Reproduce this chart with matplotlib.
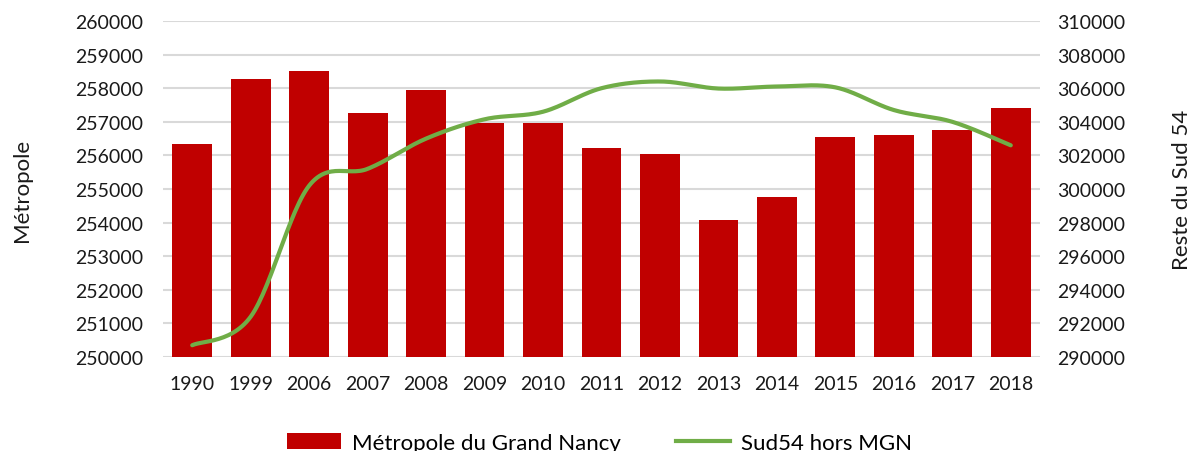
import numpy as np
import matplotlib
matplotlib.use("Agg")
import matplotlib.pyplot as plt
from matplotlib.lines import Line2D
from matplotlib.patches import Patch

years = ["1990", "1999", "2006", "2007", "2008", "2009", "2010", "2011",
         "2012", "2013", "2014", "2015", "2016", "2017", "2018"]
metropole = [256350, 258260, 258520, 257270, 257960, 256960, 256950, 256230,
             256030, 254070, 254770, 256550, 256600, 256750, 257420]
sud54 = [290700, 292400, 300200, 301200, 303000, 304150, 304600, 306000,
         306400, 305980, 306100, 306050, 304700, 304000, 302600]

BAR_COLOR = "#C00000"
LINE_COLOR = "#70AD47"
GRID_COLOR = "#D9D9D9"
TXT = "#1A1A1A"


def smooth(xs, ys, n=30):
    # Excel-like smoothed line: Bezier segments with Catmull-Rom control points
    xs = np.asarray(xs, float)
    ys = np.asarray(ys, float)
    px = np.concatenate([[xs[0]], xs, [xs[-1]]])
    py = np.concatenate([[ys[0]], ys, [ys[-1]]])
    outx, outy = [], []
    t = np.linspace(0, 1, n)
    for i in range(1, len(px) - 2):
        p0 = np.array([px[i], py[i]])
        p3 = np.array([px[i + 1], py[i + 1]])
        c1 = p0 + (np.array([px[i + 1], py[i + 1]]) - np.array([px[i - 1], py[i - 1]])) / 6
        c2 = p3 - (np.array([px[i + 2], py[i + 2]]) - np.array([px[i], py[i]])) / 6
        b = ((1 - t) ** 3)[:, None] * p0 + (3 * (1 - t) ** 2 * t)[:, None] * c1 \
            + (3 * (1 - t) * t ** 2)[:, None] * c2 + (t ** 3)[:, None] * p3
        outx.extend(b[:, 0])
        outy.extend(b[:, 1])
    return outx, outy


plt.rcParams['font.family'] = ['Lato', 'DejaVu Sans']
fs = 14

fig = plt.figure(figsize=(11.99, 4.52), dpi=100)
ax = fig.add_axes([163 / 1199, (452 - 358) / 452, (1040 - 163) / 1199, (358 - 22) / 452])
ax2 = ax.twinx()

x = np.arange(len(years))
ax.bar(x, metropole, width=0.68, color=BAR_COLOR, zorder=2)
ax.set_ylim(250000, 260000)
ax.set_yticks(np.arange(250000, 260001, 1000))
ax.set_xlim(-0.5, len(years) - 0.5)
ax.set_xticks(x)
ax.set_xticklabels(years)
ax.grid(axis='y', color=GRID_COLOR, linewidth=1.5, zorder=0)
ax.set_axisbelow(True)

sx, sy = smooth(x, sud54)
ax2.plot(sx, sy, color=LINE_COLOR, linewidth=3, solid_capstyle='round', zorder=3)
ax2.set_ylim(290000, 310000)
ax2.set_yticks(np.arange(290000, 310001, 2000))

for a in (ax, ax2):
    for s in a.spines.values():
        s.set_visible(False)
    a.tick_params(length=0, labelsize=fs, colors=TXT)

ax.tick_params(axis='x', pad=13)
ax.tick_params(axis='y', pad=14)
ax2.tick_params(axis='y', pad=12)

ax.set_ylabel("Métropole", fontsize=16, color=TXT, labelpad=31)
ax2.set_ylabel("Reste du Sud 54", fontsize=16, color=TXT, labelpad=34)

handles = [Patch(facecolor=BAR_COLOR), Line2D([0], [0], color=LINE_COLOR, linewidth=3)]
labels = ["Métropole du Grand Nancy", "Sud54 hors MGN"]
fig.legend(handles, labels, loc='center', bbox_to_anchor=(0.5, 8 / 452),
           ncol=2, frameon=False, fontsize=16, columnspacing=2.5,
           handlelength=2.4, handletextpad=0.5)

fig.savefig("out.png", dpi=100)
